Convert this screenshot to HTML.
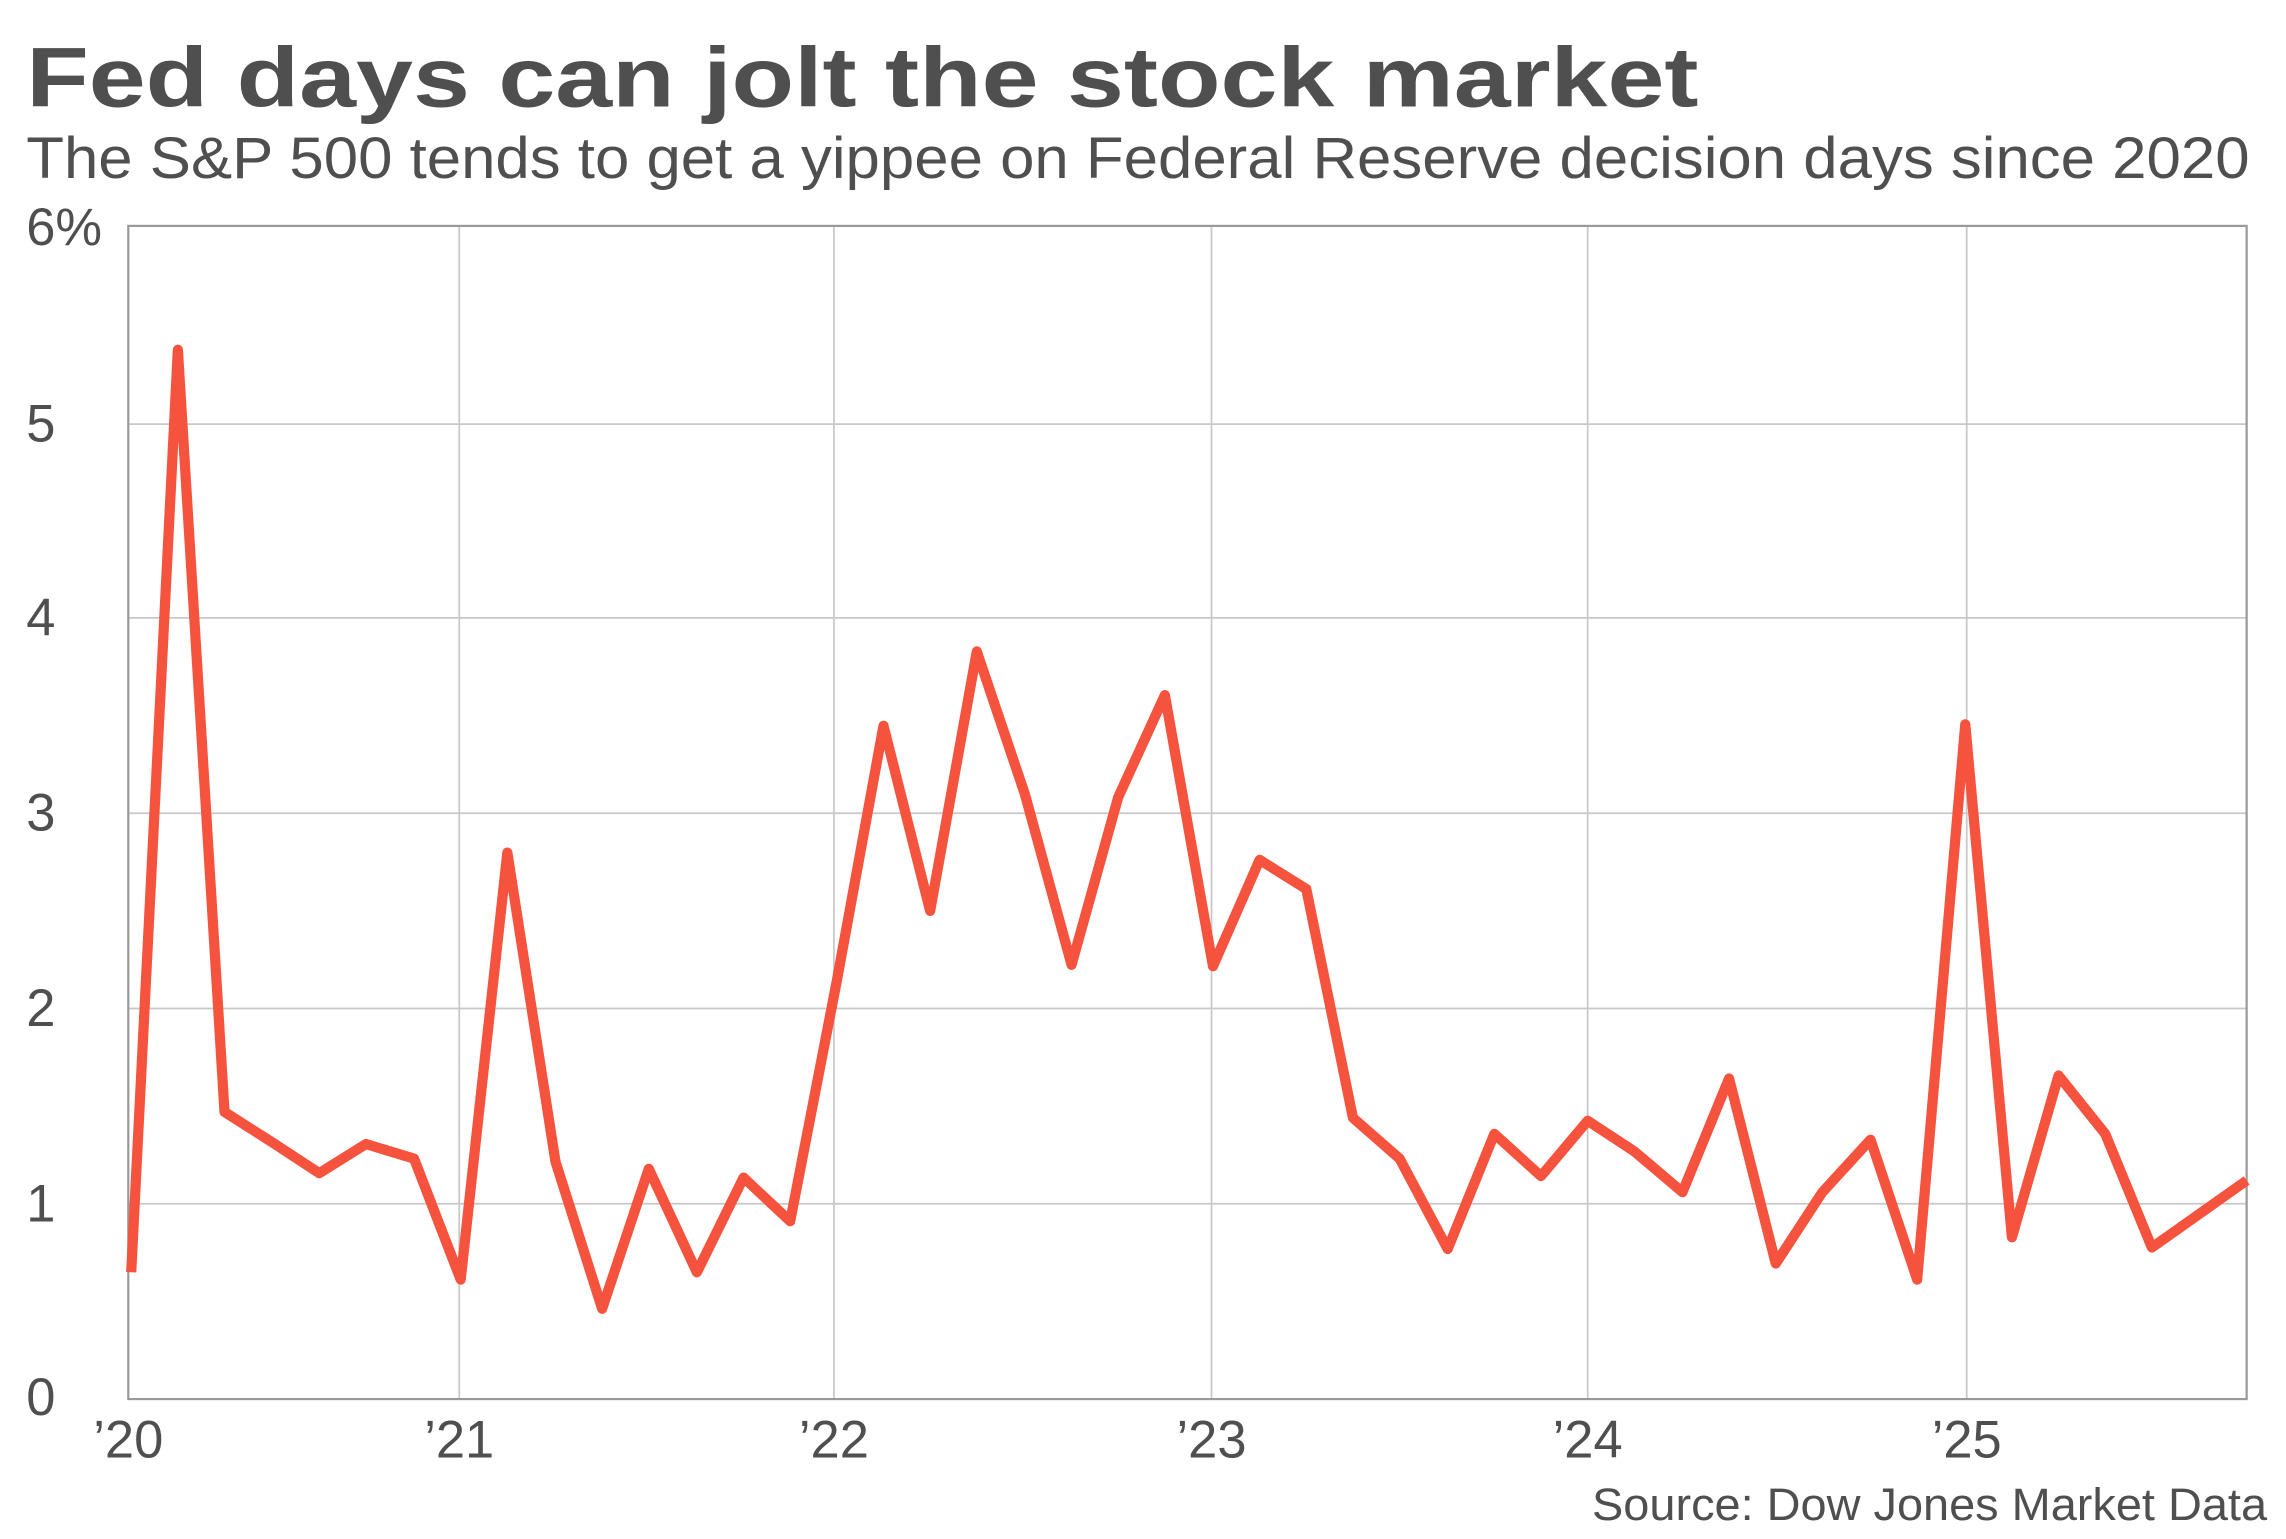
<!DOCTYPE html>
<html><head><meta charset="utf-8"><style>
html,body{margin:0;padding:0;background:#fff;}
svg{display:block;}
text{font-family:"Liberation Sans",sans-serif;fill:#4f4f4f;}
</style></head><body>
<svg width="2286" height="1539" viewBox="0 0 1568 1056" preserveAspectRatio="none" xmlns="http://www.w3.org/2000/svg">
<rect width="1568" height="1056" fill="#fff"/>
<text x="18" y="73" font-size="58" font-weight="bold" textLength="1147" lengthAdjust="spacingAndGlyphs">Fed days can jolt the stock market</text>
<text x="18" y="122" font-size="40" textLength="1525" lengthAdjust="spacingAndGlyphs">The S&amp;P 500 tends to get a yippee on Federal Reserve decision days since 2020</text>
<g stroke="#c8c8c8" stroke-width="1.2">
<line x1="88" y1="291" x2="1541" y2="291"/>
<line x1="88" y1="424" x2="1541" y2="424"/>
<line x1="88" y1="558" x2="1541" y2="558"/>
<line x1="88" y1="692" x2="1541" y2="692"/>
<line x1="88" y1="826" x2="1541" y2="826"/>
<line x1="315" y1="155" x2="315" y2="960"/>
<line x1="572" y1="155" x2="572" y2="960"/>
<line x1="831" y1="155" x2="831" y2="960"/>
<line x1="1089" y1="155" x2="1089" y2="960"/>
<line x1="1349" y1="155" x2="1349" y2="960"/>
</g>
<rect x="88" y="155" width="1453" height="805" fill="none" stroke="#999" stroke-width="1.5"/>
<g font-size="36">
<text x="18" y="168">6%</text>
<text x="18" y="303">5</text>
<text x="18" y="436">4</text>
<text x="18" y="570">3</text>
<text x="18" y="704">2</text>
<text x="18" y="838">1</text>
<text x="18" y="971">0</text>
</g>
<g font-size="36" text-anchor="middle">
<text x="88" y="1000">’20</text>
<text x="315" y="1000">’21</text>
<text x="572" y="1000">’22</text>
<text x="831" y="1000">’23</text>
<text x="1089" y="1000">’24</text>
<text x="1349" y="1000">’25</text>
</g>
<text x="1092" y="1043" font-size="31" textLength="463" lengthAdjust="spacingAndGlyphs">Source: Dow Jones Market Data</text>
<polyline fill="none" stroke="#f5533d" stroke-width="7" stroke-linejoin="round" points="90,873 122,240 154,763 187,784 219,805 251,785 284,795 316,878 348,585 381,797 413,898 445,802 478,873 510,808 542,838 574,673 606,498 638,625 670,447 703,545 735,662 767,547 799,477 832,663 864,590 896,610 928,767 960,795 993,857 1025,778 1057,807 1089,769 1121,790 1154,818 1186,740 1218,867 1250,818 1283,782 1315,878 1348,497 1380,849 1412,738 1444,778 1476,856 1541,810"/>
</svg>
</body></html>
